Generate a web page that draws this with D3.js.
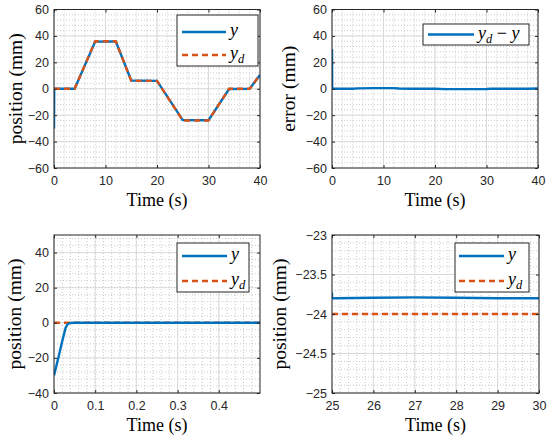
<!DOCTYPE html>
<meta charset="utf-8">
<style>
body { margin: 0; background: #fff; }
.tick text { font: 12.5px "Liberation Sans", Arial, sans-serif; fill: #262626; }
.lab { font: 18px "Liberation Serif", "Times New Roman", serif; fill: #000; }
.ylab { font-size: 19.5px; }
.leg { font: italic 18px "Liberation Serif", "Times New Roman", serif; fill: #000; }
</style>
<svg width="550" height="442"></svg>
<script src="https://d3js.org/d3.v7.min.js"></script>
<script>
// position tracking, full run
var tPos = [0, 0.04, 4, 8, 12, 15, 20, 25, 30, 34, 38, 40];
var yPos = [-30, 0, 0, 35.7, 35.8, 6.2, 6, -23.7, -23.8, -0.2, 0, 10.4];
var tRef = [0, 4, 8, 12, 15, 20, 25, 30, 34, 38, 40];
var ydRef = [0, 0, 36, 36, 6, 6, -24, -24, 0, 0, 10.5];

// tracking error yd - y
var tErr = [0, 0.04, 4, 5, 8, 12, 13, 15, 20, 22, 25, 30, 31, 34, 38, 40];
var errVals = [30, 0, 0, 0.3, 0.5, 0.5, 0.2, 0, 0, -0.3, -0.3, -0.2, 0, 0, 0, 0.2];

// first half second
var tStart = [0, 0.01, 0.02, 0.028, 0.033, 0.04, 0.05, 0.5];
var yStart = [-30, -20.5, -10.5, -3, -0.8, -0.1, 0, 0];
var tStartRef = [0, 0.5];
var ydStart = [0, 0];

// hold segment 25..30 s
var tHold = [25, 25, 25.1, 26, 27, 28, 29, 30];
var yHold = [-23.73, -23.80, -23.80, -23.795, -23.79, -23.795, -23.80, -23.80];
var tHoldRef = [25, 30];
var ydHold = [-24, -24];

var xTicksFull = [0, 10, 20, 30, 40];
var yTicksFull = [-60, -40, -20, 0, 20, 40, 60];
var xTicksStart = [0, 0.1, 0.2, 0.3, 0.4];
var yTicksStart = [-40, -20, 0, 20, 40];
var xTicksHold = [25, 26, 27, 28, 29, 30];
var yTicksHold = [-25, -24.5, -24, -23.5, -23];

var blue = "#0072BD", orange = "#D95319";

function zip(xs, ys) { return xs.map(function(x, i) { return [x, ys[i]]; }); }

var panels = [
  {box: [54, 260, 9.5, 168], xd: [0, 40], yd: [-60, 60], xt: xTicksFull, yt: yTicksFull,
   xm: 2, ym: 4, ylab: "position (mm)", ylx: 22,
   series: [{d: zip(tPos, yPos), c: blue, dash: null}, {d: zip(tRef, ydRef), c: orange, dash: "6,4"}],
   legend: {box: [177, 258, 15, 66], rows: [32, 55], lx: [182, 226], items: ["y", "yd"]}},
  {box: [332, 538, 9.5, 168], xd: [0, 40], yd: [-60, 60], xt: xTicksFull, yt: yTicksFull,
   xm: 2, ym: 4, ylab: "error (mm)", ylx: 295,
   series: [{d: zip(tErr, errVals), c: blue, dash: null}],
   legend: {box: [423, 529, 24, 45], rows: [34.5], lx: [428, 474], items: ["err"]}},
  {box: [54, 260, 235, 393], xd: [0, 0.5], yd: [-40, 50], xt: xTicksStart, yt: yTicksStart,
   xm: 0.02, ym: 4, ylab: "position (mm)", ylx: 21,
   series: [{d: zip(tStartRef, ydStart), c: orange, dash: "6,4"}, {d: zip(tStart, yStart), c: blue, dash: null}],
   legend: {box: [177, 249, 243, 292], rows: [256, 281], lx: [182, 227], items: ["y", "yd"]}},
  {box: [332, 539, 235, 393], xd: [25, 30], yd: [-25, -23], xt: xTicksHold, yt: yTicksHold,
   xm: 0.2, ym: 0.1, ylab: "position (mm)", ylx: 286,
   series: [{d: zip(tHold, yHold), c: blue, dash: null}, {d: zip(tHoldRef, ydHold), c: orange, dash: "6,4"}],
   legend: {box: [455, 529, 243, 292], rows: [256, 281], lx: [459, 504], items: ["y", "yd"]}}
];

var svg = d3.select("svg");
var fmt = function(d) { return String(d).replace("-", "\u2212"); };

function minorVals(dom, step) {
  var out = [], n = Math.round((dom[1] - dom[0]) / step);
  for (var i = 1; i < n; i++) out.push(dom[0] + i * step);
  return out;
}

panels.forEach(function(p, k) {
  var x = d3.scaleLinear().domain(p.xd).range([p.box[0], p.box[1]]);
  var y = d3.scaleLinear().domain(p.yd).range([p.box[3], p.box[2]]);
  var g = svg.append("g");

  g.append("rect").attr("x", p.box[0]).attr("y", p.box[2])
    .attr("width", p.box[1] - p.box[0]).attr("height", p.box[3] - p.box[2]).attr("fill", "#fff");

  // minor grid
  g.selectAll(".mx").data(minorVals(p.xd, p.xm)).enter().append("line")
    .attr("x1", x).attr("x2", x).attr("y1", p.box[2]).attr("y2", p.box[3])
    .attr("stroke", "#b4b4b4").attr("stroke-width", 0.7).attr("stroke-dasharray", "1,2");
  g.selectAll(".my").data(minorVals(p.yd, p.ym)).enter().append("line")
    .attr("y1", y).attr("y2", y).attr("x1", p.box[0]).attr("x2", p.box[1])
    .attr("stroke", "#b4b4b4").attr("stroke-width", 0.7).attr("stroke-dasharray", "1,2");
  // major grid
  g.selectAll(".gx").data(p.xt).enter().append("line")
    .attr("x1", x).attr("x2", x).attr("y1", p.box[2]).attr("y2", p.box[3])
    .attr("stroke", "#d6d6d6").attr("stroke-width", 0.8);
  g.selectAll(".gy").data(p.yt).enter().append("line")
    .attr("y1", y).attr("y2", y).attr("x1", p.box[0]).attr("x2", p.box[1])
    .attr("stroke", "#d6d6d6").attr("stroke-width", 0.8);

  // data lines
  var clipId = "clip" + k;
  svg.append("clipPath").attr("id", clipId).append("rect")
    .attr("x", p.box[0]).attr("y", p.box[2] - 1)
    .attr("width", p.box[1] - p.box[0]).attr("height", p.box[3] - p.box[2] + 2);
  var line = d3.line().x(function(d) { return x(d[0]); }).y(function(d) { return y(d[1]); });
  p.series.forEach(function(s) {
    g.append("path").attr("d", line(s.d)).attr("clip-path", "url(#" + clipId + ")")
      .attr("fill", "none").attr("stroke", s.c).attr("stroke-width", 2.4)
      .attr("stroke-dasharray", s.dash);
  });

  // axes, ticks inside on all sides
  var tl = 3;
  g.append("g").attr("transform", "translate(0," + p.box[3] + ")")
    .call(d3.axisBottom(x).tickValues(p.xt).tickSizeInner(-tl).tickSizeOuter(0).tickPadding(8).tickFormat(fmt));
  g.append("g").attr("transform", "translate(" + p.box[0] + ",0)")
    .call(d3.axisLeft(y).tickValues(p.yt).tickSizeInner(-tl).tickSizeOuter(0).tickPadding(5).tickFormat(fmt));
  g.append("g").attr("transform", "translate(0," + p.box[2] + ")")
    .call(d3.axisTop(x).tickValues(p.xt).tickSizeInner(-tl).tickSizeOuter(0).tickFormat(""));
  g.append("g").attr("transform", "translate(" + p.box[1] + ",0)")
    .call(d3.axisRight(y).tickValues(p.yt).tickSizeInner(-tl).tickSizeOuter(0).tickFormat(""));
  g.selectAll(".domain").remove();
  g.selectAll(".tick line").attr("stroke", "#262626");
  g.append("rect").attr("x", p.box[0]).attr("y", p.box[2])
    .attr("width", p.box[1] - p.box[0]).attr("height", p.box[3] - p.box[2])
    .attr("fill", "none").attr("stroke", "#262626").attr("stroke-width", 1);

  // labels
  g.append("text").attr("class", "lab").attr("text-anchor", "middle")
    .attr("x", (p.box[0] + p.box[1]) / 2).attr("y", p.box[3] + 38).text("Time (s)");
  g.append("text").attr("class", "lab ylab").attr("text-anchor", "middle")
    .attr("transform", "translate(" + p.ylx + "," + (p.box[2] + p.box[3]) / 2 + ") rotate(-90)")
    .text(p.ylab);

  // legend
  var L = p.legend;
  g.append("rect").attr("x", L.box[0]).attr("y", L.box[2])
    .attr("width", L.box[1] - L.box[0]).attr("height", L.box[3] - L.box[2])
    .attr("fill", "#fff").attr("stroke", "#262626").attr("stroke-width", 1);
  L.items.forEach(function(it, i) {
    var s = p.series.filter(function(q) { return it == "yd" ? q.c == orange : q.c == blue; })[0];
    g.append("line").attr("x1", L.lx[0]).attr("x2", L.lx[1]).attr("y1", L.rows[i]).attr("y2", L.rows[i])
      .attr("stroke", s.c).attr("stroke-width", 2.4).attr("stroke-dasharray", s.dash);
    var t = g.append("text").attr("class", "leg").attr("x", L.lx[1] + 4).attr("y", L.rows[i] + 4);
    t.append("tspan").text("y");
    if (it != "y") {
      t.append("tspan").attr("dy", 4).attr("font-size", "12.5px").text("d");
    }
    if (it == "err") {
      t.append("tspan").attr("dy", -4).attr("font-style", "normal").text(" \u2212 ");
      t.append("tspan").text("y");
    }
  });
});
</script>
